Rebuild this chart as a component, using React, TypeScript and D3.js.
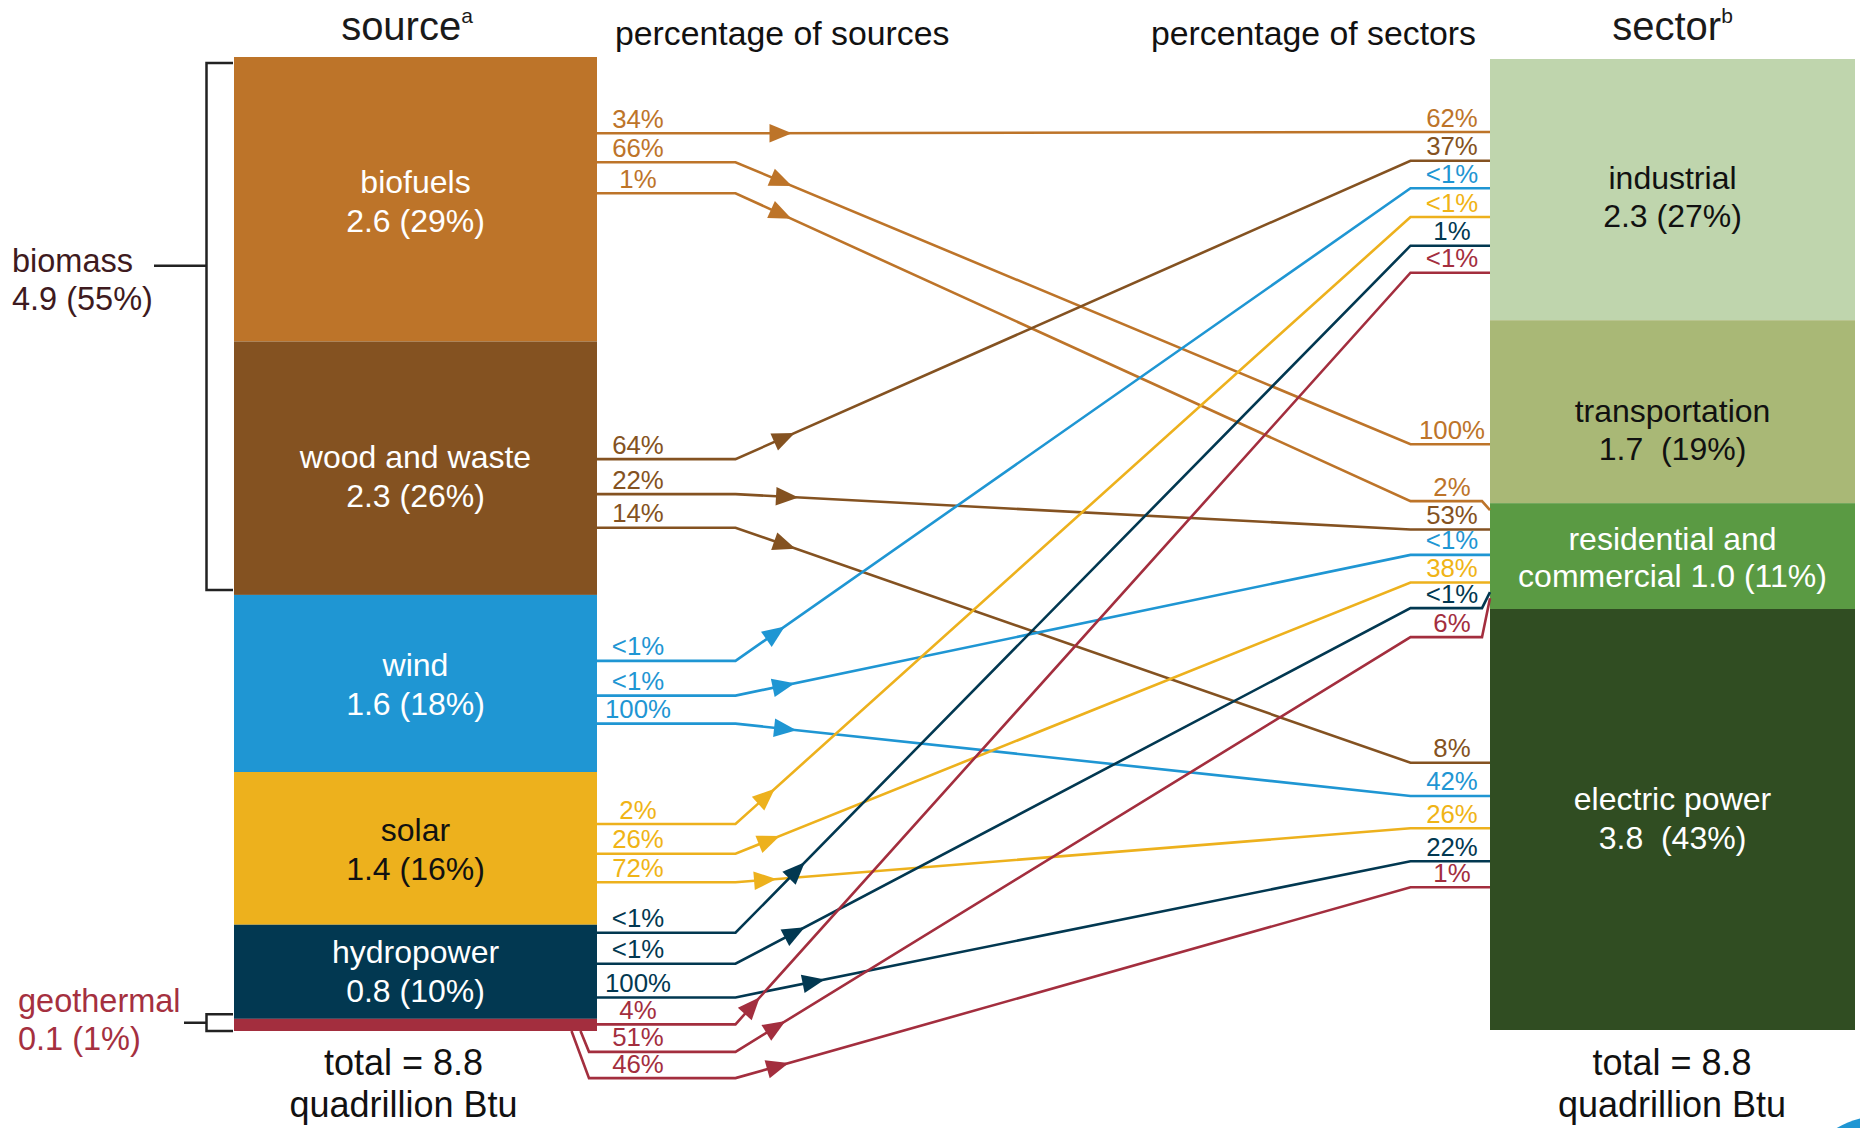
import React, { useEffect } from "react";
import * as d3 from "d3";

// ---------- data ----------
const sources = ["biofuels", "wood and waste", "wind", "solar", "hydropower", "geothermal"];
const sourceValues = [2.57, 2.29, 1.6, 1.38, 0.85, 0.11];
const sourceValueLabels = ["2.6 (29%)", "2.3 (26%)", "1.6 (18%)", "1.4 (16%)", "0.8 (10%)", "0.1 (1%)"];

const sectors = ["industrial", "transportation", "residential and commercial", "electric power"];
const sectorValues = [2.37, 1.66, 0.96, 3.82];
const sectorLabelLines = [
  ["industrial", "2.3 (27%)"],
  ["transportation", "1.7  (19%)"],
  ["residential and", "commercial 1.0 (11%)"],
  ["electric power", "3.8  (43%)"],
];

const flowSource = [0, 0, 0, 1, 1, 1, 2, 2, 2, 3, 3, 3, 4, 4, 4, 5, 5, 5];
const flowSector = [0, 1, 2, 0, 2, 3, 0, 2, 3, 0, 2, 3, 0, 2, 3, 0, 2, 3];
const flowPctOfSource = ["34%", "66%", "1%", "64%", "22%", "14%", "<1%", "<1%", "100%", "2%", "26%", "72%", "<1%", "<1%", "100%", "4%", "51%", "46%"];
const flowPctOfSector = ["62%", "100%", "2%", "37%", "53%", "8%", "<1%", "<1%", "42%", "<1%", "38%", "26%", "1%", "<1%", "22%", "<1%", "6%", "1%"];

const biomassLabel = ["biomass", "4.9 (55%)"];
const geoLabel = ["geothermal", "0.1 (1%)"];
const totalLabel = ["total = 8.8", "quadrillion Btu"];

// ---------- styles / layout ----------
const sourceColors = ["#BD7429", "#845221", "#1F96D3", "#EDB11D", "#023851", "#A32E3E"];
const sourceTextColors = ["#fff", "#fff", "#fff", "#111", "#fff", "#fff"];
const sourceLabelDy = [-6, 0, -7, -7, -8.5, 0];
const sectorColors = ["#BFD5AD", "#A9B876", "#5A9A43", "#304D22"];
const sectorTextColors = ["#111", "#111", "#fff", "#fff"];
const sectorLabelDy = [-1, 10, -6, -9];
const labelColors = ["#BD7429", "#845221", "#1F96D3", "#F0B416", "#023851", "#A32E3E"];

// link anchor offsets (px from band top)
const srcOffset = [76.3, 105.3, 136.3, 117.7, 152.7, 186.3, 66, 100.7, 128.7, 52, 81.7, 110.3, 8, 39, 72.7, 5.5, 33, 59.3];
const srcBelowStart = [null, null, null, null, null, null, null, null, null, null, null, null, null, null, null, null, -16.5, -25.5];
const tgtOffset = [73, 124, -2, 101.7, 26.3, 153.7, 129.3, 51.7, 187, 158, 79.3, 219.3, 186.7, 105, 252.3, 213.7, 134, 278.3];
const tgtEntry = [null, null, 7, null, null, null, null, null, null, null, null, null, null, 89, null, null, 95, null];
const arrowDx = [56.5, 56.5, 56, 59.3, 63, 60, 49.3, 59.3, 61, 39.3, 44.3, 41, 69.3, 69.3, 89.3, 24.3, 50, 53.3];

const W = 1860;
const H = 1128;
const SRC_X0 = 234, SRC_X1 = 597;
const TGT_X0 = 1490, TGT_X1 = 1855;
const KNEE1 = 735.5, KNEE2 = 1410.5;
const FONT = "'Liberation Sans', Arial, Helvetica, sans-serif";

export default function App() {
  useEffect(() => {
    document.body.style.margin = "0";
  }, []);

  const yS = d3.scaleLinear().domain([0, d3.sum(sourceValues)]).range([57, 1031]);
  const yT = d3.scaleLinear().domain([0, d3.sum(sectorValues)]).range([59, 1030]);
  const srcCum = [0, ...Array.from(d3.cumsum(sourceValues))];
  const secCum = [0, ...Array.from(d3.cumsum(sectorValues))];
  const line = d3.line<[number, number]>();

  const flows = flowSource.map((s, i) => {
    const t = flowSector[i];
    const y1 = yS(srcCum[s]) + srcOffset[i];
    const ty0 = yT(secCum[t]);
    const y2 = ty0 + tgtOffset[i];
    const pts: [number, number][] = [];
    if (srcBelowStart[i] != null) {
      pts.push([SRC_X1 + (srcBelowStart[i] as number), yS(srcCum[s + 1])]);
      pts.push([SRC_X1 - 8, y1]);
    } else pts.push([SRC_X1, y1]);
    pts.push([KNEE1, y1]);
    pts.push([KNEE2, y2]);
    if (tgtEntry[i] != null) {
      pts.push([TGT_X0 - 8, y2]);
      pts.push([TGT_X0, ty0 + (tgtEntry[i] as number)]);
    } else pts.push([TGT_X0, y2]);
    const dx = KNEE2 - KNEE1, dy = y2 - y1;
    const len = Math.hypot(dx, dy);
    const ux = dx / len, uy = dy / len;
    const tx = KNEE1 + arrowDx[i];
    const ty = y1 + (arrowDx[i] * dy) / dx;
    const L = 22.5, hw = 9.3;
    const bx = tx - ux * L, by = ty - uy * L;
    const arrow = `M${tx},${ty}L${bx - uy * hw},${by + ux * hw}L${bx + uy * hw},${by - ux * hw}Z`;
    return { s, t, y1, y2, d: line(pts) as string, arrow, color: sourceColors[s], lc: labelColors[s], i };
  });

  const bioTop = yS(0) + 6;
  const bioBot = yS(srcCum[2]) - 5;
  const bioMid = 265.7;
  const geoTop = yS(srcCum[5]) - 4.5;
  const geoBot = yS(srcCum[6]);

  return (
    <svg width={W} height={H} style={{ position: "absolute", left: 0, top: 0, background: "#fff" }} fontFamily={FONT}>
      <rect x={0} y={0} width={W} height={H} fill="#fff" />
      {/* titles */}
      <text x={407} y={40} fontSize={40} textAnchor="middle" fill="#1a1a1a">
        source<tspan fontSize={21} dy={-17}>a</tspan>
      </text>
      <text x={1672.5} y={40} fontSize={40} textAnchor="middle" fill="#1a1a1a">
        sector<tspan fontSize={21} dy={-17}>b</tspan>
      </text>
      <text x={615} y={45} fontSize={33.8} fill="#111">percentage of sources</text>
      <text x={1476} y={45} fontSize={33.8} textAnchor="end" fill="#111">percentage of sectors</text>

      {/* source bars */}
      {sources.map((name, i) => {
        const y0 = yS(srcCum[i]);
        const y1 = yS(srcCum[i + 1]);
        const cy = (y0 + y1) / 2 + sourceLabelDy[i];
        return (
          <g key={name}>
            <rect x={SRC_X0} y={y0} width={SRC_X1 - SRC_X0} height={y1 - y0} fill={sourceColors[i]} />
            {i < 5 && (
              <text x={(SRC_X0 + SRC_X1) / 2} y={cy} fontSize={32} textAnchor="middle" fill={sourceTextColors[i]}>
                <tspan x={(SRC_X0 + SRC_X1) / 2}>{name}</tspan>
                <tspan x={(SRC_X0 + SRC_X1) / 2} dy={38.4}>{sourceValueLabels[i]}</tspan>
              </text>
            )}
          </g>
        );
      })}

      {/* sector bars */}
      {sectors.map((name, i) => {
        const y0 = yT(secCum[i]);
        const y1 = yT(secCum[i + 1]);
        const cy = (y0 + y1) / 2 + sectorLabelDy[i];
        const cx = (TGT_X0 + TGT_X1) / 2;
        return (
          <g key={name}>
            <rect x={TGT_X0} y={y0} width={TGT_X1 - TGT_X0} height={y1 - y0} fill={sectorColors[i]} />
            <text x={cx} y={cy} fontSize={32} textAnchor="middle" fill={sectorTextColors[i]} style={{ whiteSpace: "pre" }}>
              <tspan x={cx}>{sectorLabelLines[i][0]}</tspan>
              <tspan x={cx} dy={i === 2 ? 36.7 : 38.4}>{sectorLabelLines[i][1]}</tspan>
            </text>
          </g>
        );
      })}

      {/* flows */}
      {flows.map((f) => (
        <g key={f.i}>
          <path d={f.d} fill="none" stroke={f.color} strokeWidth={2.6} strokeLinejoin="miter" />
          <path d={f.arrow} fill={f.color} />
        </g>
      ))}
      {flows.map((f) => (
        <g key={"l" + f.i}>
          <text x={638} y={f.y1 - 5.5} fontSize={25.8} textAnchor="middle" fill={f.lc}>{flowPctOfSource[f.i]}</text>
          <text x={1452} y={f.y2 - 5.5} fontSize={25.8} textAnchor="middle" fill={f.lc}>{flowPctOfSector[f.i]}</text>
        </g>
      ))}

      {/* biomass bracket */}
      <path d={`M${SRC_X0 - 1},${bioTop}H206.5V${bioBot}H${SRC_X0 - 1}M154,${bioMid}H206.5`} fill="none" stroke="#222" strokeWidth={2.5} />
      <text x={12} y={271.7} fontSize={32.5} fill="#3E1A20">
        <tspan x={12}>{biomassLabel[0]}</tspan>
        <tspan x={12} dy={38.4}>{biomassLabel[1]}</tspan>
      </text>

      {/* geothermal bracket */}
      <path d={`M${SRC_X0 - 1},${geoTop}H206.5V${geoBot}H${SRC_X0 - 1}M184,1022.7H206.5`} fill="none" stroke="#222" strokeWidth={2.5} />
      <text x={18} y={1011.7} fontSize={32.5} fill="#A5303F">
        <tspan x={18}>{geoLabel[0]}</tspan>
        <tspan x={18} dy={38.4}>{geoLabel[1]}</tspan>
      </text>

      {/* totals */}
      {[403.5, 1672].map((cx) => (
        <text key={cx} x={cx} y={1075} fontSize={36} textAnchor="middle" fill="#111">
          <tspan x={cx}>{totalLabel[0]}</tspan>
          <tspan x={cx} dy={41.7}>{totalLabel[1]}</tspan>
        </text>
      ))}

      {/* corner logo fragment */}
      <circle cx={1880} cy={1200} r={84} fill="#1F96D3" />
    </svg>
  );
}
